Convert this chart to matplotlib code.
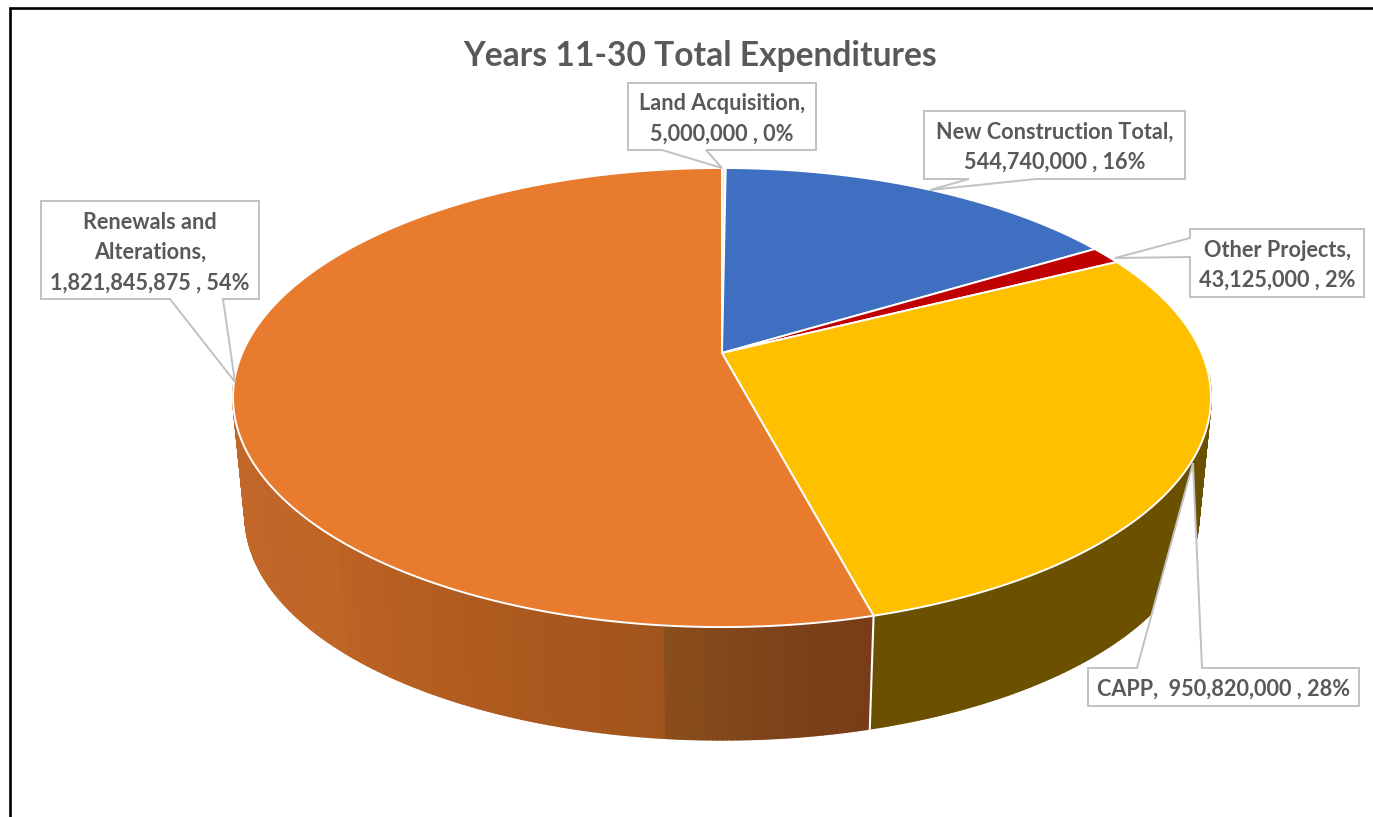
import numpy as np
import matplotlib
matplotlib.use("Agg")
import matplotlib.pyplot as plt
from matplotlib.patches import Polygon
from matplotlib.collections import PolyCollection
from matplotlib.colors import to_rgb

# ---- data ----
categories = ["Land Acquisition", "New Construction Total", "Other Projects", "CAPP", "Renewals and Alterations"]
values = [5000000, 544740000, 43125000, 950820000, 1821845875]
title = "Years 11-30 Total Expenditures"
label_texts = [
    "Land Acquisition,\n5,000,000 , 0%",
    "New Construction Total,\n544,740,000 , 16%",
    "Other Projects,\n43,125,000 , 2%",
    "CAPP,  950,820,000 , 28%",
    "Renewals and\nAlterations,\n1,821,845,875 , 54%",
]

# ---- style ----
TOP = ["#e4ecf5", "#3f6fc0", "#c00000", "#ffc000", "#e97b2e"]
SIDE = ["#8fa0b8", "#294a80", "#7a0000", "#6b5000", "#a8561c"]
TXT = "#595959"
FONT = "Lato"

# projection of the pie disc: apex, perspective and extrusion
AX0, AY0 = 722.0, 353.0
A, B, K = 479.7, 220.9, 0.194
ELL_CY = 397.5
SHRINK, DROP = 0.975, 118.5


def top_xy(theta):
    u, v = np.sin(theta), np.cos(theta)
    d = 1 + K * v
    return AX0 + A * u / d, AY0 - B * v / d


def bottom_xy(theta):
    x, y = top_xy(theta)
    return AX0 + SHRINK * (x - AX0), ELL_CY + DROP + SHRINK * (y - ELL_CY)


fig = plt.figure(figsize=(13.73, 8.17), dpi=100, facecolor="white")
ax = fig.add_axes([0, 0, 1, 1])
ax.set_xlim(0, 1373)
ax.set_ylim(817, 0)
ax.axis("off")

vals = np.array(values, dtype=float)
edges = np.concatenate([[0], np.cumsum(vals)]) / vals.sum() * 2 * np.pi

# orange side shading by screen position
ox = [230, 337, 338, 500, 662, 664, 760, 870]
oc = ["#c2672a", "#bf6526", "#bc6224", "#ad5a1e", "#a0541c", "#8a4e1c", "#7f4419", "#783c18"]
oc_rgb = np.array([to_rgb(c) for c in oc])

# side walls (front half only; the back is hidden by the top face)
for i in range(len(vals)):
    th = np.linspace(edges[i], edges[i + 1], max(3, int((edges[i + 1] - edges[i]) * 120)))
    polys, cols = [], []
    for a, b in zip(th[:-1], th[1:]):
        if np.cos((a + b) / 2) > -0.1:
            continue
        xa, ya = top_xy(a); xb, yb = top_xy(b)
        xc, yc = bottom_xy(b); xd, yd = bottom_xy(a)
        polys.append([(xa, ya), (xb, yb), (xc, yc), (xd, yd)])
        if i == 4:
            xm = (xa + xb) / 2
            cols.append([np.interp(xm, ox, oc_rgb[:, k]) for k in range(3)])
        else:
            cols.append(to_rgb(SIDE[i]))
    if polys:
        ax.add_collection(PolyCollection(polys, facecolors=cols, edgecolors=cols, linewidths=1.2, zorder=1))

# white seam between the front walls
seam = edges[4]
bx0, by0 = top_xy(seam)
bx1, by1 = bottom_xy(seam)
ax.plot([bx0, bx1], [by0, by1], color="white", lw=1.5, zorder=2)

# top faces
for i in range(len(vals)):
    th = np.linspace(edges[i], edges[i + 1], max(3, int((edges[i + 1] - edges[i]) * 120)))
    x, y = top_xy(th)
    pts = np.column_stack([np.r_[AX0, x], np.r_[AY0, y]])
    ax.add_patch(Polygon(pts, closed=True, facecolor=TOP[i], edgecolor="white", lw=1.4, joinstyle="round", zorder=3))

# callouts: box (x0, y0, x1, y1), wedge base on one box side, wedge tip
callouts = [
    ((628, 83, 816, 150), "bottom", (662, 706), (722, 168)),
    ((924, 111, 1185, 179), "bottom", (969, 1036), (930, 190)),
    ((1190, 229, 1364, 297), "left", (238, 257), (1115, 258)),
    ((1088, 668, 1359, 706), "top", (1137, 1202), (1193, 463)),
    ((41, 201, 259, 299), "bottom", (170, 223), (235, 382)),
]
for (x0, y0, x1, y1), side, (p, q), tip in callouts:
    if side == "bottom":
        pts = [(x0, y0), (x1, y0), (x1, y1), (q, y1), tip, (p, y1), (x0, y1)]
    elif side == "top":
        pts = [(x0, y0), (p, y0), tip, (q, y0), (x1, y0), (x1, y1), (x0, y1)]
    else:
        pts = [(x0, y0), (x1, y0), (x1, y1), (x0, y1), (x0, q), tip, (x0, p)]
    ax.add_patch(Polygon(pts, closed=True, facecolor="white", edgecolor="#bfc1c3", lw=1.4, zorder=4))

for txt, ((x0, y0, x1, y1), _, _, _) in zip(label_texts, callouts):
    ax.text((x0 + x1) / 2, (y0 + y1) / 2 + 2.5, txt, ha="center", va="center", ma="center",
            family=FONT, fontweight="bold", fontsize=15.6, color=TXT, linespacing=1.55, zorder=5)

ax.text(700, 56, title, ha="center", va="center", family=FONT, fontweight="bold", fontsize=24.2, color=TXT, zorder=5)

# outer frame
ax.plot([10, 10, 1373], [817, 8, 8], color="black", lw=1.9, solid_joinstyle="miter", zorder=6)

fig.savefig("out.png", dpi=100, facecolor="white")
